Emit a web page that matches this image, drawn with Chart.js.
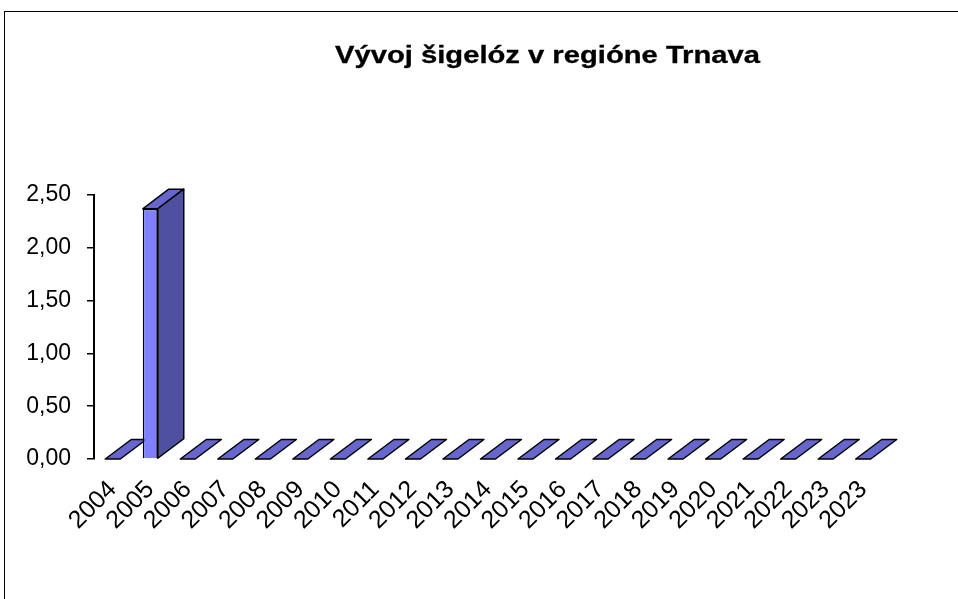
<!DOCTYPE html>
<html><head><meta charset="utf-8">
<script src="https://cdn.jsdelivr.net/npm/chart.js@4.4.1/dist/chart.umd.min.js"></script>
<style>
html,body{margin:0;padding:0;background:#fff;overflow:hidden;width:958px;height:599px}
#frame{position:absolute;left:4px;top:11px;width:1000px;height:700px;border:1px solid #000}
#c{position:absolute;left:0;top:0}
</style></head><body>
<div id="frame"></div>
<canvas id="c" width="958" height="599"></canvas>
<script>
const chartTitle = 'Vývoj šigelóz v regióne Trnava';
const categories = ['2004','2005','2006','2007','2008','2009','2010','2011','2012','2013','2014','2015','2016','2017','2018','2019','2020','2021','2022','2023','2023'];
const cases = [0, 2.37, 0, 0, 0, 0, 0, 0, 0, 0, 0, 0, 0, 0, 0, 0, 0, 0, 0, 0, 0];
const yTickValues = [0, 0.5, 1, 1.5, 2, 2.5];

const FONT = '"Liberation Sans", Arial, sans-serif';
const frontColor = '#8080FF';
const topColor = '#6666CC';
const sideColor = '#5050A0';

const titlePlugin = {
  id: 'stretchedTitle',
  afterDraw(chart) {
    const ctx = chart.ctx;
    ctx.save();
    ctx.font = 'bold 23px ' + FONT;
    ctx.fillStyle = '#000';
    ctx.strokeStyle = '#000';
    ctx.lineWidth = 0.3;
    ctx.textAlign = 'center';
    ctx.textBaseline = 'alphabetic';
    const w = ctx.measureText(chartTitle).width;
    ctx.translate(547.5, 63);
    ctx.scale(425 / w, 1);
    ctx.fillText(chartTitle, 0, 0);
    ctx.strokeText(chartTitle, 0, 0);
    ctx.restore();
  }
};

const bar3d = {
  id: 'bar3d',
  beforeDatasetsDraw(chart) {
    const ctx = chart.ctx;
    const meta = chart.getDatasetMeta(0);
    ctx.save();
    ctx.lineWidth = 1.5;
    ctx.strokeStyle = '#000';
    ctx.lineJoin = 'round';
    meta.data.forEach(el => {
      const p = el.getProps(['x', 'y', 'base', 'width'], true);
      const l = p.x - p.width / 2, r = p.x + p.width / 2, t = p.y, b = p.base;
      const dx = p.width * 1.73, dy = -p.width * 1.3;
      ctx.beginPath();
      ctx.moveTo(l, t); ctx.lineTo(r, t); ctx.lineTo(r + dx, t + dy); ctx.lineTo(l + dx, t + dy);
      ctx.closePath();
      ctx.fillStyle = topColor; ctx.fill(); ctx.stroke();
      if (b - t > 0.5) {
        ctx.beginPath();
        ctx.moveTo(r, t); ctx.lineTo(r + dx, t + dy); ctx.lineTo(r + dx, b + dy); ctx.lineTo(r, b);
        ctx.closePath();
        ctx.fillStyle = sideColor; ctx.fill(); ctx.stroke();
      }
    });
    ctx.restore();
  }
};

new Chart(document.getElementById('c'), {
  type: 'bar',
  data: {
    labels: categories,
    datasets: [{
      data: cases,
      backgroundColor: frontColor,
      borderColor: '#000',
      borderWidth: 1.5,
      barPercentage: 0.4,
      categoryPercentage: 1,
      clip: false
    }]
  },
  options: {
    responsive: false,
    animation: false,
    devicePixelRatio: 1,
    layout: { padding: { top: 195, right: 76, left: 0, bottom: 0 } },
    plugins: { legend: { display: false }, tooltip: { enabled: false }, title: { display: false } },
    scales: {
      x: {
        grid: { display: false },
        border: { display: false },
        ticks: { color: '#000', font: { family: FONT, size: 25 }, minRotation: 45, maxRotation: 45, padding: 8, autoSkip: false },
        afterFit(scale) { scale.height = 140; }
      },
      y: {
        min: 0, max: 2.5,
        afterBuildTicks(scale) { scale.ticks = yTickValues.map(v => ({ value: v })); },
        ticks: { color: '#000', font: { family: FONT, size: 23 }, padding: 16,
          callback: v => Number(v).toFixed(2).replace('.', ',') },
        grid: { display: true, drawOnChartArea: false, drawTicks: true, tickLength: 7, color: '#000', lineWidth: 1.5 },
        border: { display: true, color: '#000', width: 2 },
        afterFit(scale) { scale.width = 94; }
      }
    }
  },
  plugins: [bar3d, titlePlugin]
});
</script>
</body></html>
